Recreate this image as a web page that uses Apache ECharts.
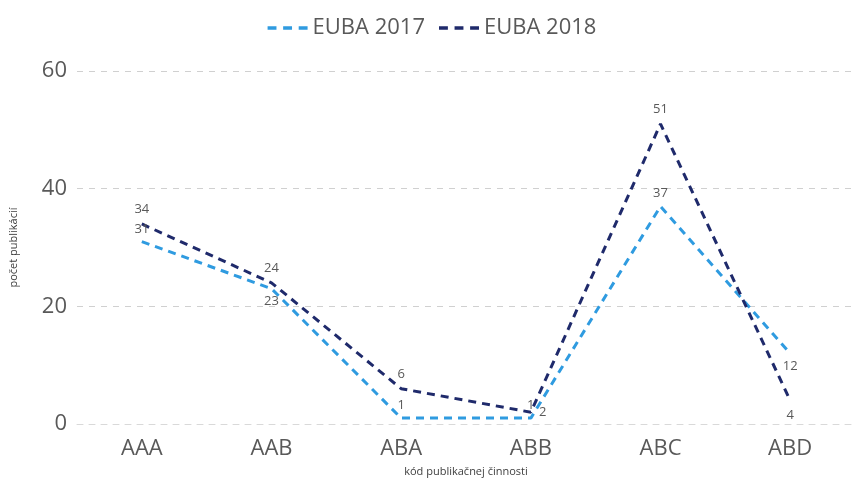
<!DOCTYPE html>
<html><head><meta charset="utf-8">
<script src="https://cdn.jsdelivr.net/npm/echarts@6/dist/echarts.min.js"></script>
<style>html,body{margin:0;padding:0;background:#fff}#c{width:864px;height:482px}</style>
</head><body><div id="c"></div>
<script>
const categories = ['AAA','AAB','ABA','ABB','ABC','ABD'];
const euba2017 = [31, 23, 1, 1, 37, 12];
const euba2018 = [34, 24, 6, 2, 51, 4];
const yTicks = [0, 20, 40, 60];

const pos2017 = ['top','bottom','top','top','top','bottom'];
const pos2018 = ['top','top','top','right','top','bottom'];

const txt = '#595959';
const font = '"Open Sans", "Noto Sans", sans-serif';

function mk(vals, positions){
  return vals.map((v,i)=>({value:v, label:{position:positions[i]}}));
}

const chart = echarts.init(document.getElementById('c'));
chart.setOption({
  animation:false,
  textStyle:{fontFamily:font},
  legend:{
    top:12, left:'center', itemWidth:40, itemHeight:14, itemGap:14,
    textStyle:{color:txt, fontSize:22, fontFamily:font},
    icon:'path://M0,6 L8,6 L8,9 L0,9 Z M14,6 L22,6 L22,9 L14,9 Z M28,6 L36,6 L36,9 L28,9 Z'
  },
  grid:{left:75, right:9, top:71, bottom:58},
  xAxis:{
    type:'category', data:categories, boundaryGap:true,
    axisLine:{lineStyle:{color:'#d9d9d9', type:[6,6]}},
    axisTick:{show:false},
    axisLabel:{color:txt, fontSize:22, margin:14, fontFamily:font},
    name:'kód publikačnej činnosti', nameLocation:'middle', nameGap:42,
    nameTextStyle:{color:'#404040', fontSize:11, fontFamily:font}
  },
  yAxis:{
    type:'value', min:0, max:60, interval:20,
    axisLine:{show:false}, axisTick:{show:false},
    axisLabel:{color:txt, fontSize:22, margin:10, fontFamily:font,
      formatter:v=>yTicks.includes(v)?String(v):''},
    splitLine:{lineStyle:{color:'#d0d0d0', type:[6,6]}},
    name:'počet publikácií', nameLocation:'middle', nameGap:58, nameRotate:90,
    nameTextStyle:{color:'#404040', fontSize:11, fontFamily:font}
  },
  series:[
    {name:'EUBA 2017', type:'line', data:mk(euba2017,pos2017),
     symbol:'circle', symbolSize:0.1, showSymbol:true,
     color:'#2f9be0',
     lineStyle:{width:3, type:[8,6], color:'#2f9be0'},
     label:{show:true, color:txt, fontSize:13, fontFamily:font, distance:6}},
    {name:'EUBA 2018', type:'line', data:mk(euba2018,pos2018),
     symbol:'circle', symbolSize:0.1, showSymbol:true,
     color:'#1f2a6b',
     lineStyle:{width:3, type:[8,6], color:'#1f2a6b'},
     label:{show:true, color:txt, fontSize:13, fontFamily:font, distance:8}}
  ]
});
</script></body></html>
